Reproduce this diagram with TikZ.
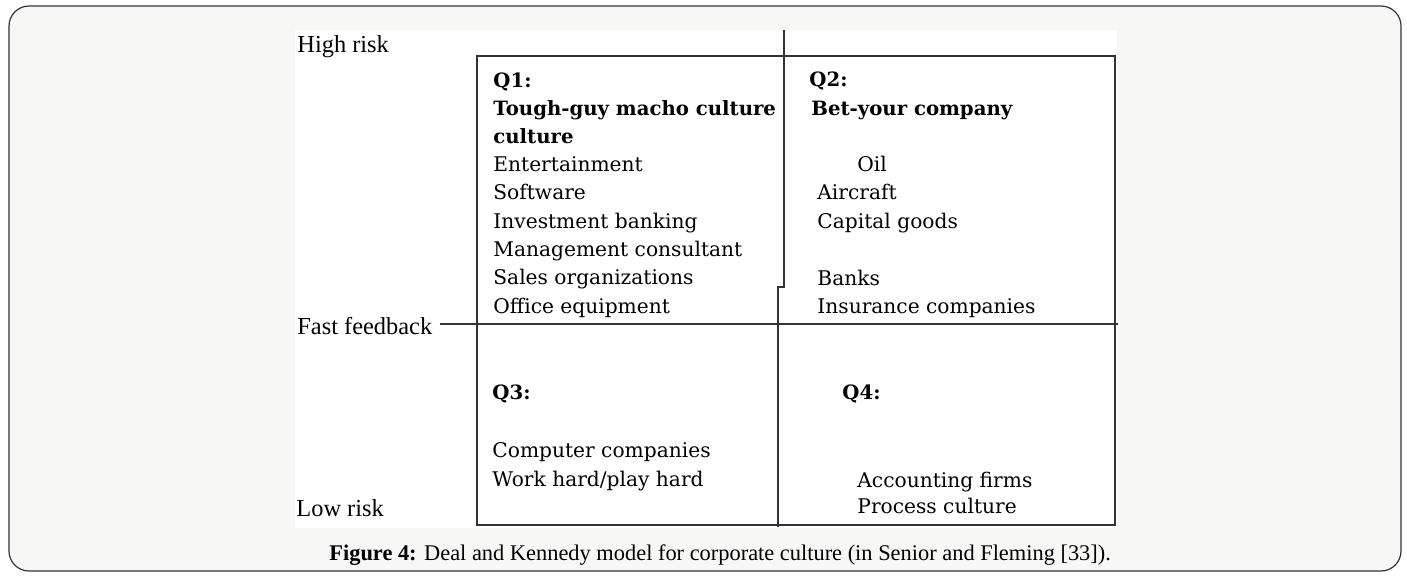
\documentclass[tikz,border=0pt]{standalone}
\usepackage{fontspec}
\setmainfont{Liberation Serif}
\newfontfamily\quadfont{DejaVu Serif}
\definecolor{pagegray}{RGB}{247,247,246}
\definecolor{linegray}{RGB}{51,51,51}

\begin{document}
\begin{tikzpicture}[x=0.5pt, y=-0.5pt,
    every node/.style={inner sep=0pt, anchor=base west},
    entry/.style={font=\quadfont\fontsize{10.1}{12}\selectfont},
    head/.style={font=\quadfont\bfseries\fontsize{9.85}{12}\selectfont},
    axislabel/.style={font=\fontsize{12.2}{14}\selectfont},
    axis/.style={line width=0.65pt, draw=linegray}]
   \useasboundingbox (0,0) rectangle (1407,575);

   % frame and white figure area
   \draw[line width=0.6pt, draw=linegray, fill=pagegray, rounded corners=10pt]
    (9,6) rectangle (1401,571);
   \fill[white] (295,30) rectangle (1117,528);

   % axes
   \coordinate (vtop) at (784,30);
   \coordinate (vjog) at (784,287);
   \coordinate (vjog2) at (778,287);
   \coordinate (vbot) at (778,527);
   \coordinate (hleft) at (440,324);
   \coordinate (hright) at (1118,324);

   \draw[axis] (477,56) rectangle (1115,525);
   \draw[axis] (vtop) -- (vjog) -- (vjog2) -- (vbot);
   \draw[axis] (hleft) -- (hright);

   \path
    (297,52) node[axislabel](high) {High risk}
    (297,334) node[axislabel](fast) {Fast feedback}
    (296,516) node[axislabel](low) {Low risk};

   %Q1
   \path
    (493,87) node[head](q1) {Q1:}
    (493,115) node[head](q1a) {Tough-guy macho culture}
    (493,143) node[head](q1b) {culture}
    (493,171) node[entry](ent) {Entertainment}
    (493,199) node[entry](soft) {Software}
    (493,228) node[entry](inv) {Investment banking}
    (493,256) node[entry](mgmt) {Management consultant}
    (493,284) node[entry](sales) {Sales organizations}
    (493,313) node[entry](office) {Office equipment};

   %Q2
   \path
    (809,86) node[head](q2) {Q2:}
    (811,115) node[head](q2a) {Bet-your company}
    (857,171) node[entry](oil) {Oil}
    (817,199) node[entry](air) {Aircraft}
    (817,228) node[entry](cap) {Capital goods}
    (817,285) node[entry](banks) {Banks}
    (817,313) node[entry](ins) {Insurance companies};

   %Q3 and Q4
   \path
    (492,399) node[head](q3) {Q3:}
    (492,457) node[entry](comp) {Computer companies}
    (492,486) node[entry](work) {Work hard/play hard}
    (842,399) node[head](q4) {Q4:}
    (857,487) node[entry](acc) {Accounting firms}
    (857,513) node[entry](proc) {Process culture};

   \node[font=\fontsize{11.2}{13}\selectfont] (caption) at (329,560)
    {\textbf{Figure 4:} Deal and Kennedy model for corporate culture (in Senior and Fleming [33]).};
\end{tikzpicture}
\end{document}
